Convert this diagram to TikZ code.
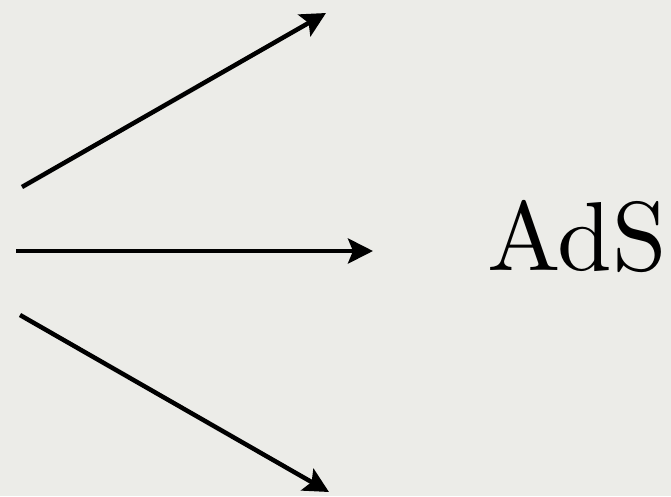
\documentclass[tikz,border=0pt]{standalone}
\usepackage{fontspec}
\newfontfamily\lmten{lmroman10-regular.otf}
\usetikzlibrary{arrows.meta}
\definecolor{bg}{RGB}{236,236,232}
\tikzset{
  arr/.style={line width=4.5pt, -{Stealth[length=25pt,width=25pt,inset=5pt]}},
}
\begin{document}
\begin{tikzpicture}[x=1pt,y=-1pt]
\fill[bg] (0,0) rectangle (671,496);
\useasboundingbox (0,0) rectangle (671,496);
\coordinate (s1) at (22,187);
\coordinate (t1) at (326,13);
\coordinate (s2) at (16,251);
\coordinate (t2) at (373,251);
\coordinate (s3) at (20,315);
\coordinate (t3) at (329,492);
\draw[arr] (s1) -- (t1);
\draw[arr] (s2) -- (t2);
\draw[arr] (s3) -- (t3);
\node[anchor=base west, inner sep=0pt, font=\lmten\fontsize{98}{110}\selectfont] (ads) at (487,270) {AdS};
\end{tikzpicture}
\end{document}
